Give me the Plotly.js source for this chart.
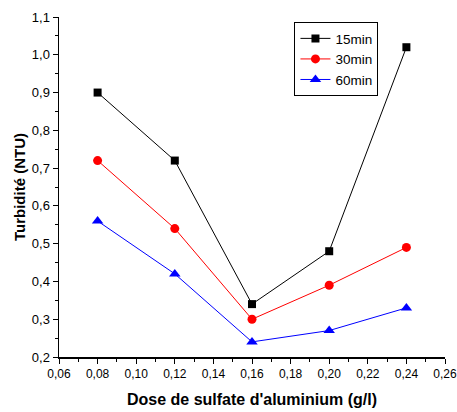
<!DOCTYPE html>
<html>
<head>
<meta charset="utf-8">
<script src="https://cdn.plot.ly/plotly-3.0.1.min.js"></script>
<style>
  html, body { margin: 0; padding: 0; background: #fff; }
  #chart { width: 457px; height: 412px; }
</style>
</head>
<body>
<div id="chart"></div>
<script>
// Aluminium sulfate dose (g/l)
const doses = [0.08, 0.12, 0.16, 0.20, 0.24];
// Turbidity (NTU) after each settling time
const turb15 = [0.90, 0.72, 0.34, 0.48, 1.02];
const turb30 = [0.72, 0.54, 0.30, 0.39, 0.49];
const turb60 = [0.56, 0.42, 0.24, 0.27, 0.33];
const seriesNames = ['15min', '30min', '60min'];

const font = 'Liberation Sans, Arial, sans-serif';

function series(y, name, color, symbol, size) {
  return {
    x: doses, y: y, name: name, type: 'scatter', mode: 'lines+markers',
    line: { color: color, width: 1 },
    marker: { color: color, symbol: symbol, size: size }
  };
}

const data = [
  series(turb15, seriesNames[0], '#000000', 'square', 8),
  series(turb30, seriesNames[1], '#ff0000', 'circle', 9),
  series(turb60, seriesNames[2], '#0000ff', 'triangle-up', 10)
];

// a hair of slack so the end ticks (0,26 and 1,1) are kept
const xr = [0.06, 0.26000001];
const yr = [0.2, 1.10000001];

const layout = {
  width: 457, height: 412,
  margin: { l: 59, r: 12, t: 17, b: 55 },
  separators: ', ',
  paper_bgcolor: '#fff', plot_bgcolor: '#fff',
  font: { family: font, color: '#000' },
  showlegend: true,
  legend: {
    x: 0.61, y: 0.985, xanchor: 'left', yanchor: 'top',
    bordercolor: '#000', borderwidth: 1, bgcolor: '#fff',
    font: { size: 13.5, family: font },
    tracegroupgap: 0, itemwidth: 30
  },
  xaxis: {
    range: xr, dtick: 0.02, tick0: 0.06, tickformat: '.2f',
    ticks: 'outside', ticklen: 5, tickwidth: 1, tickcolor: '#000',
    minor: { ticks: 'outside', ticklen: 3, dtick: 0.01, tickcolor: '#000' },
    showline: true, linecolor: '#000', linewidth: 1.5,
    showgrid: false, zeroline: false,
    ticklabeloverflow: 'allow',
    tickfont: { size: 12, family: font },
    title: { text: "Dose de sulfate d'aluminium (g/l)", font: { size: 16, family: font, weight: 'bold' }, standoff: 14 }
  },
  yaxis: {
    range: yr, dtick: 0.1, tick0: 0.2, tickformat: '.1f',
    ticks: 'outside', ticklen: 5, tickwidth: 1, tickcolor: '#000',
    minor: { ticks: 'outside', ticklen: 3, dtick: 0.05, tickcolor: '#000' },
    showline: true, linecolor: '#000', linewidth: 1.5,
    showgrid: false, zeroline: false,
    ticklabeloverflow: 'allow',
    tickfont: { size: 13, family: font },
    title: { text: 'Turbidité (NTU)', font: { size: 15, family: font, weight: 'bold' }, standoff: 2 }
  },
  xaxis2: {
    overlaying: 'x', side: 'top', range: xr, dtick: 0.02, tick0: 0.06,
    ticks: 'inside', ticklen: 4, tickcolor: '#000', showticklabels: false,
    showline: true, linecolor: '#000', linewidth: 1.5,
    showgrid: false, zeroline: false
  },
  yaxis2: {
    overlaying: 'y', side: 'right', range: yr, dtick: 0.1, tick0: 0.2,
    ticks: 'inside', ticklen: 4, tickcolor: '#000', showticklabels: false,
    showline: true, linecolor: '#000', linewidth: 1.5,
    showgrid: false, zeroline: false
  }
};

Plotly.newPlot('chart', data, layout, { displayModeBar: false, staticPlot: true });
</script>
</body>
</html>
